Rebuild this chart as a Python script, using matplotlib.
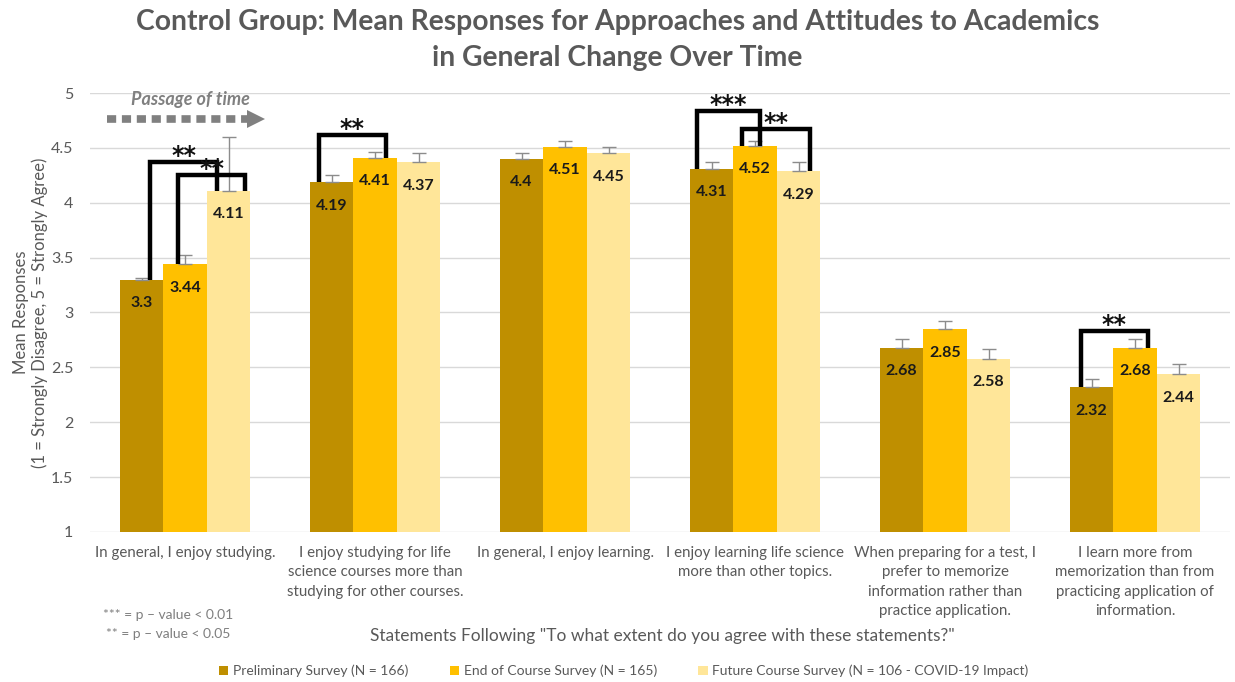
import matplotlib
matplotlib.use("Agg")
import matplotlib.pyplot as plt
from matplotlib.lines import Line2D
import numpy as np

plt.rcParams['font.family'] = ['Lato', 'DejaVu Sans']

# Statements (x categories)
statements = [
    "In general, I enjoy studying.",
    "I enjoy studying for life\nscience courses more than\nstudying for other courses.",
    "In general, I enjoy learning.",
    "I enjoy learning life science\nmore than other topics.",
    "When preparing for a test, I\nprefer to memorize\ninformation rather than\npractice application.",
    "I learn more from\nmemorization than from\npracticing application of\ninformation.",
]

series_names = [
    "Preliminary Survey (N = 166)",
    "End of Course Survey (N = 165)",
    "Future Course Survey (N = 106 - COVID-19 Impact)",
]

preliminary = [3.30, 4.19, 4.40, 4.31, 2.68, 2.32]
end_of_course = [3.44, 4.41, 4.51, 4.52, 2.85, 2.68]
future_course = [4.11, 4.37, 4.45, 4.29, 2.58, 2.44]

# Upper error (standard error) per bar
preliminary_err = [0.01, 0.06, 0.05, 0.06, 0.08, 0.07]
end_of_course_err = [0.08, 0.055, 0.05, 0.04, 0.075, 0.08]
future_course_err = [0.49, 0.08, 0.06, 0.08, 0.09, 0.09]

# Significance brackets: (statement, first survey, second survey, bracket top, label)
brackets = [
    (0, 0, 2, 4.37, "**"),
    (0, 1, 2, 4.25, "**"),
    (1, 0, 1, 4.62, "**"),
    (3, 0, 1, 4.84, "***"),
    (3, 1, 2, 4.67, "**"),
    (5, 0, 1, 2.83, "**"),
]

yticks = [1, 1.5, 2, 2.5, 3, 3.5, 4, 4.5, 5]
ytick_labels = ["1", "1.5", "2", "2.5", "3", "3.5", "4", "4.5", "5"]

# ---- styling ----
colors = ["#BF8F00", "#FFC000", "#FFE699"]
text_gray = "#595959"
bar_w = 0.229
# horizontal nudge of each bracket leg from its bar centre
leg_offsets = [
    (0.045, -0.06),
    (-0.037, 0.087),
    (-0.067, 0.058),
    (-0.075, 0.026),
    (-0.067, 0.062),
    (-0.058, 0.07),
]

fig = plt.figure(figsize=(12.35, 6.82), dpi=100)
ax = fig.add_axes([0.0729, 0.22, 0.9231, 0.6436])

values = [preliminary, end_of_course, future_course]
errors = [preliminary_err, end_of_course_err, future_course_err]
x = np.arange(len(statements))

for k in range(3):
    pos = x + (k - 1) * bar_w
    ax.bar(pos, values[k], width=bar_w, bottom=0, color=colors[k],
           label=series_names[k], zorder=2)
    ax.errorbar(pos, values[k],
                yerr=[np.zeros(len(statements)), errors[k]],
                fmt="none", ecolor="#8c8c8c", elinewidth=1.0,
                capsize=5, capthick=1.0, zorder=3)
    for xi, v in zip(pos, values[k]):
        ax.annotate(f"{v:g}", (xi, v), xytext=(0, -17), textcoords="offset points",
                    ha="center", va="center", fontsize=11.5, fontweight="bold",
                    color="#1a1a1a", zorder=4)

# significance brackets
for (g, a, b, top, lab), (da, db) in zip(brackets, leg_offsets):
    xa = g + (a - 1) * bar_w + da
    xb = g + (b - 1) * bar_w + db
    ya = values[a][g]
    yb = values[b][g]
    ax.plot([xa, xa, xb, xb], [ya, top, top, yb], color="black", lw=3.2,
            solid_joinstyle="miter", solid_capstyle="butt", zorder=5)
    ax.annotate(lab, ((xa + xb) / 2, top), xytext=(0, -0.8),
                textcoords="offset points", ha="center", va="baseline",
                fontsize=17, fontweight="bold", color="#111111",
                family="DejaVu Sans", zorder=6)

ax.set_xlim(-0.5, len(statements) - 0.5)
ax.set_ylim(1, 5)
ax.set_yticks(yticks)
ax.set_yticklabels(ytick_labels)
ax.set_xticks(x)
ax.set_xticklabels(statements, fontsize=10.8, color=text_gray, linespacing=1.5,
                   va="top")
ax.tick_params(axis="x", length=0, pad=10)
ax.tick_params(axis="y", length=0, pad=12, labelsize=11.5, labelcolor=text_gray)
ax.grid(axis="y", color="#d9d9d9", lw=1.0, zorder=0)
ax.set_axisbelow(True)
for s in ax.spines.values():
    s.set_visible(False)

ax.set_ylabel("Mean Responses\n(1 = Strongly Disagree, 5 = Strongly Agree)",
              fontsize=12, color=text_gray)
ax.yaxis.set_label_coords(-0.037, 0.5)

# passage of time arrow (square-dotted shaft with triangular head)
shaft = Line2D([-0.41, 0.33], [4.76, 4.76], lw=5.5, color="#808080",
               dashes=(1.2, 0.75), dash_capstyle="butt", zorder=6)
ax.add_line(shaft)
ax.plot([0.375], [4.76], marker=">", markersize=13, color="#808080",
        markeredgewidth=0, clip_on=False, zorder=6)
ax.text(0.03, 4.94, "Passage of time", ha="center", va="center", fontsize=13,
        fontstyle="italic", fontweight="bold", color="#808080")

fig.text(0.5, 0.968, "Control Group: Mean Responses for Approaches and Attitudes to Academics",
         ha="center", va="center", fontsize=20.3, fontweight="bold", color=text_gray)
fig.text(0.5, 0.915, "in General Change Over Time",
         ha="center", va="center", fontsize=20.3, fontweight="bold", color=text_gray)

fig.text(0.5365, 0.067,
         "Statements Following \"To what extent do you agree with these statements?\"",
         ha="center", va="center", fontsize=12.5, color=text_gray)

fig.text(0.136, 0.098, "*** = p \u2013 value < 0.01", ha="center", va="center",
         fontsize=10, color="#7f7f7f")
fig.text(0.136, 0.071, "** = p \u2013 value < 0.05", ha="center", va="center",
         fontsize=10, color="#7f7f7f")

fig.legend(loc="center", bbox_to_anchor=(0.505, 0.016), ncol=3, frameon=False,
           fontsize=10, handlelength=0.7, handleheight=0.7, handletextpad=0.3,
           columnspacing=3.0, labelcolor=text_gray)

fig.savefig("out.png", dpi=100)
